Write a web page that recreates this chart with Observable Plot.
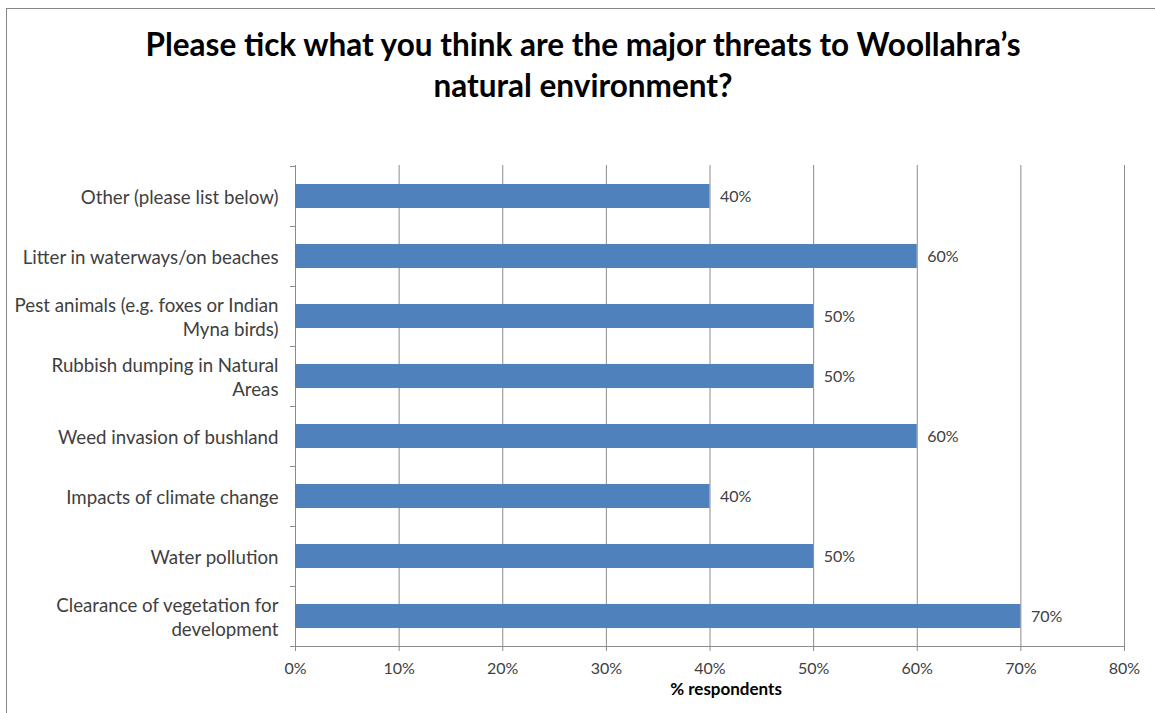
<!DOCTYPE html>
<html>
<head>
<meta charset="utf-8">
<script src="https://cdn.jsdelivr.net/npm/d3@7"></script>
<script src="https://cdn.jsdelivr.net/npm/@observablehq/plot@0.6"></script>
<style>
  html, body { margin: 0; padding: 0; background: #fff; overflow: hidden; }
  #wrap { position: relative; width: 1155px; height: 713px; }
  #frame { position: absolute; left: 6px; top: 8px; width: 1300px; height: 900px;
           border-left: 1.5px solid #868686; border-top: 1.5px solid #868686; }
  #title { position: absolute; left: 0; top: 24px; width: 1166px; text-align: center;
           font-family: Lato, sans-serif; font-weight: bold; font-size: 31.5px; line-height: 41px; color: #000; }
  #chart { position: absolute; left: 0; top: 0; }
</style>
</head>
<body>
<div id="wrap">
  <div id="frame"></div>
  <div id="title">Please tick what you think are the major threats to Woollahra’s<br>natural environment?</div>
  <div id="chart"></div>
</div>
<script>
const categories = [
  "Other (please list below)",
  "Litter in waterways/on beaches",
  "Pest animals (e.g. foxes or Indian Myna birds)",
  "Rubbish dumping in Natural Areas",
  "Weed invasion of bushland",
  "Impacts of climate change",
  "Water pollution",
  "Clearance of vegetation for development"
];
const categoryLabels = [
  "Other (please list below)",
  "Litter in waterways/on beaches",
  "Pest animals (e.g. foxes or Indian\nMyna birds)",
  "Rubbish dumping in Natural\nAreas",
  "Weed invasion of bushland",
  "Impacts of climate change",
  "Water pollution",
  "Clearance of vegetation for\ndevelopment"
];
const values = [0.40, 0.60, 0.50, 0.50, 0.60, 0.40, 0.50, 0.70];
const xTicks = [0, 0.1, 0.2, 0.3, 0.4, 0.5, 0.6, 0.7, 0.8];
const axisTitle = "% respondents";

const data = categories.map((c, i) => ({cat: c, label: categoryLabels[i], value: values[i]}));
const labelOf = new Map(data.map(d => [d.cat, d.label]));
const pct = v => Math.round(v * 100) + "%";
const FONT = "Lato, sans-serif";

const chart = Plot.plot({
  width: 1155,
  height: 713,
  marginTop: 165,
  marginBottom: 67,
  marginLeft: 295,
  marginRight: 31,
  style: {fontFamily: FONT, background: "transparent", overflow: "visible"},
  x: {domain: [0, 0.8], axis: null},
  y: {domain: categories, axis: null, paddingInner: 0.6, paddingOuter: 0.3},
  marks: [
    Plot.ruleX(xTicks, {stroke: "#8c8c8c", strokeWidth: 1, insetBottom: -5}),
    Plot.frame({anchor: "bottom", stroke: "#8c8c8c", strokeWidth: 1}),
    Plot.ruleY(categories, {y: d => d, x1: 0, x2: 0, insetLeft: -5, dy: -30, stroke: "#8c8c8c"}),
    Plot.ruleY(categories.slice(-1), {y: d => d, x1: 0, x2: 0, insetLeft: -5, dy: 30, stroke: "#8c8c8c"}),
    Plot.barX(data, {x: "value", y: "cat", fill: "#4F81BD"}),
    Plot.text(data, {x: "value", y: "cat", text: d => pct(d.value), textAnchor: "start", dx: 10, fontSize: 16, fill: "#404040"}),
    Plot.axisX({ticks: xTicks, tickFormat: pct, tickSize: 0, tickPadding: 16, fontSize: 16, color: "#404040", label: null}),
    Plot.axisY({tickSize: 0, tickPadding: 17, fontSize: 18.7, lineHeight: 1.283, tickFormat: d => labelOf.get(d), color: "#404040", label: null}),
    Plot.text([axisTitle], {frameAnchor: "bottom", dx: 16, dy: 48, text: d => d, fontWeight: "bold", fontSize: 17, fill: "#000"})
  ]
});
document.getElementById("chart").appendChild(chart);
</script>
</body>
</html>
